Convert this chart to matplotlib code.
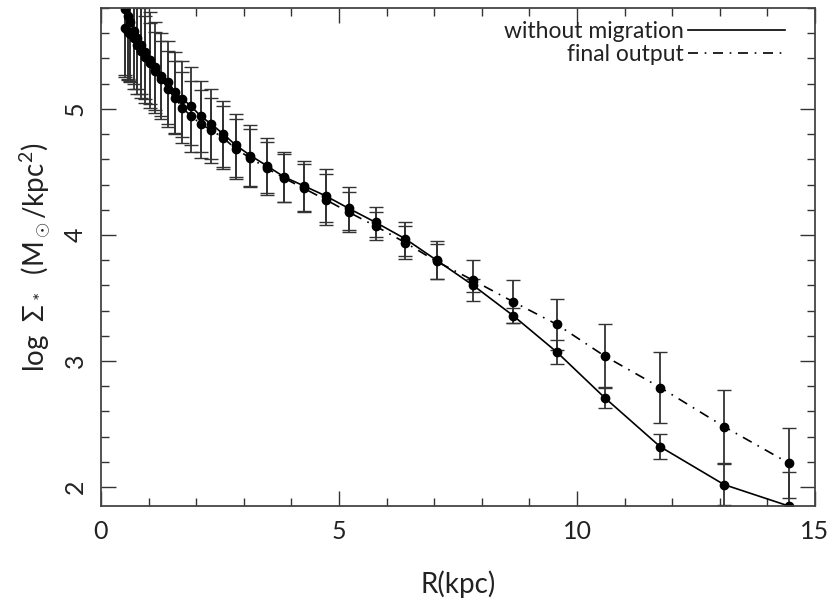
import matplotlib
matplotlib.use("Agg")
import matplotlib.pyplot as plt
from matplotlib.ticker import MultipleLocator
from matplotlib.lines import Line2D

# radius (kpc)
R = [0.50, 0.56, 0.62, 0.69, 0.76, 0.84, 0.93, 1.03, 1.14, 1.26, 1.40, 1.55,
     1.71, 1.90, 2.10, 2.32, 2.57, 2.84, 3.14, 3.48, 3.85, 4.26, 4.72, 5.21,
     5.77, 6.39, 7.05, 7.82, 8.66, 9.58, 10.58, 11.75, 13.09, 14.45]

# without migration
sig_nomig = [5.79, 5.74, 5.69, 5.62, 5.56, 5.51, 5.45, 5.39, 5.33, 5.26, 5.21, 5.13,
             5.08, 5.02, 4.94, 4.88, 4.80, 4.71, 4.63, 4.55, 4.46, 4.39, 4.31, 4.21,
             4.10, 3.97, 3.80, 3.60, 3.36, 3.07, 2.71, 2.32, 2.02, 1.85]
err_nomig = [0.52, 0.50, 0.48, 0.46, 0.44, 0.42, 0.40, 0.38, 0.36, 0.34, 0.33, 0.32,
             0.30, 0.31, 0.28, 0.28, 0.26, 0.25, 0.245, 0.22, 0.20, 0.20, 0.21, 0.17,
             0.12, 0.135, 0.15, 0.05, 0.06, 0.095, 0.085, 0.10, 0.16, 0.27]

# final output
sig_final = [5.64, 5.61, 5.59, 5.56, 5.51, 5.46, 5.41, 5.36, 5.30, 5.24, 5.16, 5.09,
             5.01, 4.94, 4.88, 4.83, 4.77, 4.68, 4.61, 4.53, 4.45, 4.37, 4.28, 4.18,
             4.07, 3.94, 3.79, 3.64, 3.47, 3.29, 3.04, 2.79, 2.48, 2.19]
err_final = [0.39, 0.38, 0.37, 0.36, 0.35, 0.34, 0.33, 0.32, 0.31, 0.30, 0.30, 0.29,
             0.28, 0.28, 0.27, 0.26, 0.25, 0.24, 0.23, 0.21, 0.19, 0.19, 0.20, 0.16,
             0.11, 0.13, 0.14, 0.165, 0.17, 0.20, 0.25, 0.28, 0.29, 0.28]

plt.rcParams['font.family'] = ['Lato', 'DejaVu Sans']
plt.rcParams['mathtext.fontset'] = 'custom'
plt.rcParams['mathtext.rm'] = 'Lato'
plt.rcParams['mathtext.it'] = 'Lato'

DASHDOT = (0, (6, 4, 1, 4))

fig = plt.figure(figsize=(8.27, 6.01), dpi=100)
ax = fig.add_axes([0.122, 0.158, 0.8635, 0.8287])

ax.errorbar(R, sig_nomig, yerr=err_nomig, fmt='o-', color='black', ms=6,
            lw=1.2, elinewidth=1.3, capsize=5, capthick=1.0, ecolor='#333333')
ax.errorbar(R, sig_final, yerr=err_final, fmt='o', color='black', ms=6,
            elinewidth=1.3, capsize=5, capthick=1.0, ecolor='#333333')
ax.plot(R, sig_final, color='black', lw=1.2, linestyle=DASHDOT)

ax.set_xlim(0, 15)
ax.set_ylim(1.85, 5.8)
ax.xaxis.set_major_locator(MultipleLocator(5))
ax.xaxis.set_minor_locator(MultipleLocator(1))
ax.yaxis.set_major_locator(MultipleLocator(1))
ax.yaxis.set_minor_locator(MultipleLocator(0.2))
ax.tick_params(which='both', direction='in', top=True, right=True,
               labelsize=18, width=1.0, color='#333333', labelcolor='#222222')
ax.tick_params(which='major', length=11, pad=10)
ax.tick_params(which='minor', length=6)
for lab in ax.get_yticklabels():
    lab.set_rotation(90)
    lab.set_va('center')
for s in ax.spines.values():
    s.set_linewidth(1.3)
    s.set_color('#444444')

ax.set_xlabel('R(kpc)', fontsize=20, labelpad=20, color='#222222')
ax.set_ylabel(r'log  $\Sigma_*$  (M$_\odot$/kpc$^2$)', fontsize=20, labelpad=8,
              color='#222222')

hl = [Line2D([], [], color='black', lw=1.2),
      Line2D([], [], color='black', lw=1.2, linestyle=DASHDOT)]
ax.legend(hl, ['without migration', 'final output'], loc='upper right',
          bbox_to_anchor=(0.975, 1.0), frameon=False, markerfirst=False,
          fontsize=16.5, handlelength=4.2, handletextpad=0.2,
          labelspacing=0.1, borderaxespad=0.15, labelcolor='#222222')

fig.savefig('out.png', dpi=100)
